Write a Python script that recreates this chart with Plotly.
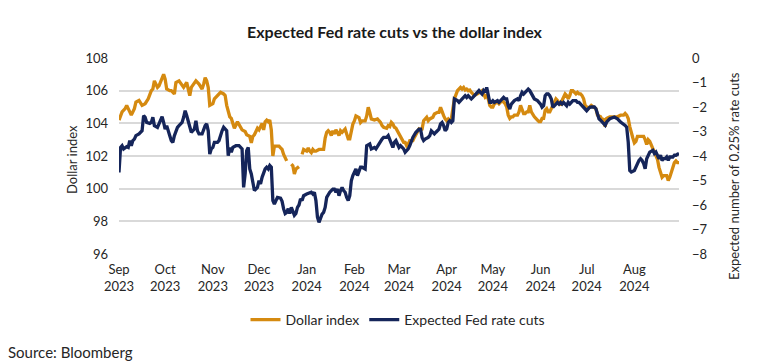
import plotly.graph_objects as go

# ---------------- data ----------------
dollar_dates = [
 "2023-09-01","2023-09-03","2023-09-05","2023-09-06","2023-09-08","2023-09-09","2023-09-11","2023-09-12","2023-09-14","2023-09-16",
 "2023-09-18","2023-09-20","2023-09-22","2023-09-23","2023-09-24","2023-09-26","2023-09-27","2023-09-29","2023-09-30","2023-10-01",
 "2023-10-02","2023-10-04","2023-10-05","2023-10-07","2023-10-08","2023-10-10","2023-10-12","2023-10-13","2023-10-15","2023-10-16",
 "2023-10-17","2023-10-18","2023-10-20","2023-10-21","2023-10-23","2023-10-25","2023-10-26","2023-10-27","2023-10-28","2023-10-29",
 "2023-10-30","2023-11-01","2023-11-02","2023-11-04","2023-11-06","2023-11-08","2023-11-09","2023-11-10","2023-11-12","2023-11-13",
 "2023-11-14","2023-11-15","2023-11-17","2023-11-19","2023-11-20","2023-11-22","2023-11-23","2023-11-25","2023-11-26","2023-11-27",
 "2023-11-28","2023-11-30","2023-12-01","2023-12-03","2023-12-04","2023-12-05","2023-12-06","2023-12-07","2023-12-08","2023-12-09",
 "2023-12-10","2023-12-11","2023-12-14","2023-12-15","2023-12-16","2023-12-17","2023-12-18","2023-12-19","2023-12-20","2023-12-22",
 "2023-12-23","2023-12-24","2023-12-25","2023-12-27","2023-12-28","2023-12-29","2023-12-30","2024-01-01","2024-01-02","2024-01-03",
 "2024-01-04","2024-01-05","2024-01-06","2024-01-07","2024-01-09","2024-01-11","2024-01-12","2024-01-13","2024-01-14","2024-01-15",
 "2024-01-16","2024-01-17","2024-01-18","2024-01-19","2024-01-20","2024-01-22","2024-01-23","2024-01-24","2024-01-25","2024-01-26",
 "2024-01-27","2024-01-28","2024-01-29","2024-01-30","2024-01-31","2024-02-01","2024-02-02","2024-02-04","2024-02-05","2024-02-06",
 "2024-02-07","2024-02-08","2024-02-09","2024-02-10","2024-02-11","2024-02-12","2024-02-14","2024-02-16","2024-02-17","2024-02-18",
 "2024-02-19","2024-02-20","2024-02-22","2024-02-23","2024-02-24","2024-02-25","2024-02-26","2024-02-27","2024-02-28","2024-03-01",
 "2024-03-02","2024-03-03","2024-03-04","2024-03-05","2024-03-06","2024-03-07","2024-03-08","2024-03-09","2024-03-10","2024-03-11",
 "2024-03-13","2024-03-14","2024-03-15","2024-03-16","2024-03-17","2024-03-18","2024-03-19","2024-03-20","2024-03-21","2024-03-23",
 "2024-03-24","2024-03-26","2024-03-27","2024-03-28","2024-03-29","2024-03-30","2024-03-31","2024-04-01","2024-04-02","2024-04-03",
 "2024-04-04","2024-04-05","2024-04-06","2024-04-08","2024-04-09","2024-04-10","2024-04-11","2024-04-12","2024-04-13","2024-04-14",
 "2024-04-15","2024-04-16","2024-04-17","2024-04-18","2024-04-19","2024-04-21","2024-04-23","2024-04-24","2024-04-25","2024-04-26",
 "2024-04-27","2024-04-28","2024-04-29","2024-04-30","2024-05-01","2024-05-02","2024-05-04","2024-05-05","2024-05-06","2024-05-07",
 "2024-05-08","2024-05-09","2024-05-10","2024-05-11","2024-05-12","2024-05-13","2024-05-14","2024-05-15","2024-05-17","2024-05-18",
 "2024-05-19","2024-05-20","2024-05-21","2024-05-22","2024-05-23","2024-05-24","2024-05-25","2024-05-26","2024-05-27","2024-05-28",
 "2024-05-30","2024-05-31","2024-06-01","2024-06-02","2024-06-03","2024-06-04","2024-06-05","2024-06-06","2024-06-07","2024-06-08",
 "2024-06-09","2024-06-11","2024-06-12","2024-06-13","2024-06-14","2024-06-15","2024-06-16","2024-06-17","2024-06-18","2024-06-19",
 "2024-06-20","2024-06-21","2024-06-22","2024-06-24","2024-06-25","2024-06-26","2024-06-27","2024-06-28","2024-06-29","2024-06-30",
 "2024-07-01","2024-07-02","2024-07-03","2024-07-04","2024-07-07","2024-07-08","2024-07-10","2024-07-11","2024-07-12","2024-07-13",
 "2024-07-14","2024-07-16","2024-07-19","2024-07-21","2024-07-23","2024-07-25","2024-07-26","2024-07-27","2024-07-28","2024-07-29",
 "2024-07-31","2024-08-01","2024-08-02","2024-08-03","2024-08-05","2024-08-07","2024-08-08","2024-08-09","2024-08-10","2024-08-11",
 "2024-08-13","2024-08-14","2024-08-15","2024-08-16","2024-08-17","2024-08-18","2024-08-19","2024-08-20","2024-08-21","2024-08-22",
 "2024-08-23","2024-08-24","2024-08-26","2024-08-27","2024-08-28","2024-08-29","2024-08-30",
]
dollar_index = [
 104.2,104.7,104.9,105.1,104.7,104.5,104.9,105.3,105.4,105.1,
 105.2,105.5,106.0,106.1,106.6,106.2,106.3,106.8,107.0,106.7,
 106.1,106.0,106.0,105.8,106.5,106.6,106.3,106.2,106.5,106.0,
 105.7,106.2,106.5,106.6,106.4,106.1,106.4,106.8,106.6,106.2,
 105.1,105.2,105.5,105.7,105.9,105.8,105.7,105.1,104.4,104.3,
 103.9,103.7,104.1,103.8,103.6,103.5,103.3,103.2,102.8,103.2,
 103.3,103.7,103.6,104.0,103.6,104.1,104.2,104.1,104.2,103.6,
 102.0,102.6,102.6,102.5,102.4,102.1,101.9,101.7,None,101.5,
 101.4,100.9,101.2,101.35,None,102.1,102.4,102.3,102.5,102.3,
 102.2,102.4,102.3,102.3,102.4,102.4,102.4,103.1,103.45,103.55,
 103.45,103.25,103.55,103.35,103.6,103.25,103.55,103.45,103.55,103.65,
 103.35,103.05,103.05,103.55,103.95,104.15,104.45,104.35,104.05,104.15,
 104.15,104.15,104.45,104.98,104.67,104.27,104.2,104.27,104.16,104.06,
 103.86,103.76,103.7,103.86,103.8,104.06,103.96,103.76,103.7,103.35,
 103.14,102.94,102.84,102.84,102.63,102.73,102.94,102.94,102.94,103.14,
 103.45,103.65,103.6,103.65,104.16,104.27,104.37,104.16,104.27,104.37,
 104.57,104.67,104.67,104.98,104.67,104.47,104.27,104.16,104.27,104.16,
 104.27,104.78,105.49,106.0,106.1,106.2,106.1,106.2,106.04,106.1,
 106.0,106.04,105.9,105.8,105.7,105.8,105.9,106.0,105.8,105.6,
 105.7,105.5,105.1,105.0,105.0,105.2,105.3,105.2,105.3,105.4,
 105.3,105.2,105.0,104.5,104.3,104.4,104.4,104.5,104.5,104.7,
 105.1,104.8,104.6,104.6,104.7,104.7,105.1,104.7,104.5,104.4,
 104.2,104.1,104.1,104.3,104.3,104.8,104.9,104.7,104.7,104.9,
 105.2,105.5,105.4,105.2,105.1,105.4,105.6,105.8,105.7,105.5,
 105.7,106.0,106.0,105.8,105.9,105.8,105.8,105.7,105.5,105.1,
 105.0,104.9,105.0,105.1,104.9,104.5,104.4,104.2,104.3,103.8,
 104.3,104.4,104.4,104.4,104.5,104.5,104.6,104.5,104.3,103.8,
 103.1,102.8,102.9,103.2,103.2,103.2,103.0,102.7,103.0,102.9,
 102.45,102.2,102.0,101.8,101.3,101.0,100.7,100.8,100.8,100.8,
 100.5,100.7,101.3,101.6,101.7,101.6,101.6,
]

fed_dates = [
 "2023-09-01","2023-09-02","2023-09-03","2023-09-04","2023-09-06","2023-09-07","2023-09-08","2023-09-09","2023-09-10","2023-09-11",
 "2023-09-12","2023-09-14","2023-09-16","2023-09-17","2023-09-18","2023-09-19","2023-09-21","2023-09-22","2023-09-23","2023-09-24",
 "2023-09-26","2023-09-27","2023-09-29","2023-09-30","2023-10-01","2023-10-02","2023-10-03","2023-10-04","2023-10-05","2023-10-06",
 "2023-10-07","2023-10-09","2023-10-10","2023-10-12","2023-10-13","2023-10-14","2023-10-15","2023-10-17","2023-10-18","2023-10-20",
 "2023-10-21","2023-10-22","2023-10-23","2023-10-25","2023-10-26","2023-10-27","2023-10-28","2023-10-29","2023-10-30","2023-10-31",
 "2023-11-01","2023-11-02","2023-11-04","2023-11-05","2023-11-07","2023-11-08","2023-11-10","2023-11-11","2023-11-12","2023-11-13",
 "2023-11-14","2023-11-16","2023-11-18","2023-11-20","2023-11-21","2023-11-22","2023-11-23","2023-11-24","2023-11-25","2023-11-26",
 "2023-11-27","2023-11-28","2023-11-30","2023-12-01","2023-12-02","2023-12-03","2023-12-05","2023-12-06","2023-12-07","2023-12-08",
 "2023-12-09","2023-12-10","2023-12-11","2023-12-13","2023-12-15","2023-12-16","2023-12-17","2023-12-18","2023-12-19","2023-12-20",
 "2023-12-21","2023-12-22","2023-12-23","2023-12-24","2023-12-25","2023-12-26","2023-12-27","2023-12-28","2023-12-29","2023-12-30",
 "2024-01-01","2024-01-02","2024-01-04","2024-01-05","2024-01-06","2024-01-07","2024-01-08","2024-01-09","2024-01-10","2024-01-11",
 "2024-01-12","2024-01-13","2024-01-14","2024-01-15","2024-01-16","2024-01-17","2024-01-18","2024-01-19","2024-01-20","2024-01-21",
 "2024-01-22","2024-01-23","2024-01-24","2024-01-25","2024-01-26","2024-01-27","2024-01-28","2024-01-29","2024-01-30","2024-01-31",
 "2024-02-01","2024-02-02","2024-02-03","2024-02-04","2024-02-05","2024-02-06","2024-02-08","2024-02-09","2024-02-11","2024-02-12",
 "2024-02-14","2024-02-15","2024-02-17","2024-02-18","2024-02-19","2024-02-20","2024-02-22","2024-02-23","2024-02-24","2024-02-26",
 "2024-02-27","2024-02-28","2024-02-29","2024-03-01","2024-03-02","2024-03-04","2024-03-05","2024-03-07","2024-03-08","2024-03-09",
 "2024-03-10","2024-03-12","2024-03-14","2024-03-15","2024-03-16","2024-03-17","2024-03-18","2024-03-20","2024-03-21","2024-03-22",
 "2024-03-24","2024-03-25","2024-03-27","2024-03-28","2024-03-29","2024-03-30","2024-03-31","2024-04-01","2024-04-02","2024-04-03",
 "2024-04-04","2024-04-05","2024-04-06","2024-04-08","2024-04-09","2024-04-10","2024-04-11","2024-04-12","2024-04-13","2024-04-14",
 "2024-04-15","2024-04-16","2024-04-17","2024-04-18","2024-04-19","2024-04-21","2024-04-22","2024-04-23","2024-04-24","2024-04-25",
 "2024-04-26","2024-04-27","2024-04-28","2024-04-29","2024-04-30","2024-05-01","2024-05-02","2024-05-04","2024-05-05","2024-05-06",
 "2024-05-07","2024-05-08","2024-05-09","2024-05-10","2024-05-11","2024-05-12","2024-05-13","2024-05-14","2024-05-15","2024-05-17",
 "2024-05-18","2024-05-19","2024-05-20","2024-05-21","2024-05-22","2024-05-23","2024-05-24","2024-05-25","2024-05-26","2024-05-27",
 "2024-05-28","2024-05-30","2024-05-31","2024-06-01","2024-06-02","2024-06-03","2024-06-04","2024-06-05","2024-06-06","2024-06-07",
 "2024-06-08","2024-06-09","2024-06-11","2024-06-12","2024-06-13","2024-06-14","2024-06-15","2024-06-16","2024-06-17","2024-06-18",
 "2024-06-19","2024-06-20","2024-06-21","2024-06-22","2024-06-24","2024-06-25","2024-06-26","2024-06-27","2024-06-28","2024-06-29",
 "2024-06-30","2024-07-01","2024-07-02","2024-07-03","2024-07-04","2024-07-06","2024-07-07","2024-07-08","2024-07-09","2024-07-10",
 "2024-07-11","2024-07-12","2024-07-13","2024-07-14","2024-07-16","2024-07-19","2024-07-21","2024-07-23","2024-07-25","2024-07-26",
 "2024-07-27","2024-07-28","2024-07-29","2024-07-30","2024-08-01","2024-08-02","2024-08-03","2024-08-04","2024-08-05","2024-08-06",
 "2024-08-07","2024-08-08","2024-08-09","2024-08-10","2024-08-11","2024-08-13","2024-08-14","2024-08-15","2024-08-16","2024-08-17",
 "2024-08-18","2024-08-19","2024-08-20","2024-08-21","2024-08-22","2024-08-23","2024-08-24","2024-08-26","2024-08-27","2024-08-28",
 "2024-08-29","2024-08-30",
]
fed_cuts = [
 -4.67,-3.65,-3.58,-3.71,-3.62,-3.65,-3.37,-3.58,-3.37,-3.31,
 -3.17,-3.10,-2.97,-2.35,-2.42,-2.63,-2.67,-2.63,-2.42,-2.76,
 -2.83,-2.69,-2.39,-2.63,-2.90,-2.76,-3.03,-3.17,-3.37,-3.44,
 -3.17,-2.83,-2.76,-2.63,-2.42,-2.15,-2.35,-2.83,-3.03,-2.90,
 -2.56,-2.97,-3.10,-3.10,-2.90,-2.76,-2.69,-2.97,-3.92,-3.71,
 -3.65,-3.44,-3.44,-3.37,-2.97,-2.83,-2.97,-3.99,-3.65,-3.85,
 -3.65,-3.58,-3.58,-3.71,-5.28,-4.73,-3.78,-3.65,-4.53,-4.73,
 -5.07,-5.41,-5.28,-5.01,-5.14,-4.87,-4.53,-4.46,-4.53,-4.39,
 -4.46,-5.82,-5.96,-5.69,-5.72,-5.85,-6.16,-6.35,-6.30,-6.15,
 -6.35,-6.10,-6.25,-6.42,-6.35,-6.10,-6.00,-5.75,-5.82,-5.62,
 -5.55,-5.52,-5.48,-5.55,-5.48,-5.82,-6.50,-6.71,-6.50,-6.37,
 -6.30,-6.10,-5.69,-5.55,-5.48,-5.41,-5.35,-5.35,-5.48,-5.35,
 -5.62,-5.41,-5.28,-5.41,-5.48,-5.69,-5.82,-5.62,-5.01,-4.80,
 -4.67,-4.53,-4.80,-4.60,-4.46,-4.46,-4.53,-3.58,-3.51,-3.71,
 -3.65,-3.71,-3.51,-3.37,-3.31,-3.24,-3.24,-3.17,-3.31,-3.65,
 -3.44,-3.37,-3.51,-3.65,-3.58,-3.71,-3.85,-3.71,-3.58,-3.37,
 -3.24,-3.03,-2.90,-2.90,-3.24,-3.37,-3.31,-3.24,-3.17,-2.97,
 -3.10,-3.03,-2.90,-2.69,-2.63,-2.76,-2.97,-2.90,-2.63,-2.56,
 -2.63,-2.56,-1.67,-1.74,-1.81,-1.74,-1.67,-1.61,-1.54,-1.61,
 -1.54,-1.61,-1.67,-1.61,-1.54,-1.40,-1.33,-1.40,-1.47,-1.33,
 -1.40,-1.20,-1.54,-1.81,-1.81,-1.74,-1.81,-1.74,-1.81,-1.74,
 -1.67,-1.61,-1.67,-1.67,-1.95,-2.08,-1.88,-1.81,-1.74,-1.67,
 -1.74,-1.54,-1.40,-1.47,-1.40,-1.33,-1.27,-1.33,-1.47,-1.54,
 -1.67,-1.74,-1.81,-1.88,-2.01,-1.95,-1.54,-1.47,-1.47,-1.54,
 -1.67,-2.01,-1.88,-1.81,-1.88,-1.81,-1.88,-1.81,-1.88,-1.95,
 -1.81,-1.88,-1.81,-1.74,-1.74,-1.81,-1.81,-1.88,-1.95,-2.01,
 -2.08,-2.15,-2.08,-2.01,-2.00,-2.00,-2.07,-2.27,-2.48,-2.54,
 -2.61,-2.68,-2.75,-2.61,-2.48,-2.41,-2.48,-2.61,-2.68,-2.75,
 -2.82,-3.43,-4.59,-4.65,-4.59,-4.45,-4.24,-4.18,-4.11,-4.18,
 -4.31,-4.52,-4.11,-3.97,-3.84,-3.77,-3.90,-3.84,-3.97,-4.11,
 -3.97,-4.18,-4.11,-4.11,-4.04,-4.18,-4.04,-4.04,-3.97,-3.97,
 -3.93,-3.90,
]

left_ticks = [96, 98, 100, 102, 104, 106, 108]
right_ticks = [-8, -7, -6, -5, -4, -3, -2, -1, 0]

ORANGE = "#D58A10"
NAVY = "#15255A"
FONT = "Lato"
TXT = "#262626"

W, H = 766, 364
L, R, T, B = 119, 87, 58, 110
pw, ph = W - L - R, H - T - B
def px(xp):
    return (xp - L) / pw
def py(yp):
    return (H - B - yp) / ph

fig = go.Figure()
fig.add_trace(go.Scatter(
    x=dollar_dates, y=dollar_index, name="Dollar index", mode="lines",
    line=dict(color=ORANGE, width=3.3), connectgaps=False, yaxis="y"))
fig.add_trace(go.Scatter(
    x=fed_dates, y=fed_cuts, name="Expected Fed rate cuts", mode="lines",
    line=dict(color=NAVY, width=3.3), yaxis="y2"))

fig.update_layout(
    width=W, height=H,
    margin=dict(l=L, r=R, t=T, b=B, autoexpand=False),
    paper_bgcolor="white", plot_bgcolor="white",
    font=dict(family=FONT, size=13, color=TXT),
    showlegend=True,
    legend=dict(orientation="h", x=px(398), xanchor="center", y=py(320), yanchor="middle",
                font=dict(size=14, color=TXT), itemwidth=30,
                tracegroupgap=0, bgcolor="rgba(0,0,0,0)"),
    xaxis=dict(type="date", range=["2023-09-01", "2024-08-30"],
               tick0="2023-09-01", dtick="M1", tickformat="%b<br>%Y",
               showgrid=False, zeroline=False, showline=False, ticks="",
               ticklabelstandoff=6, tickfont=dict(size=13, color=TXT)),
    yaxis=dict(range=[96, 108], tickvals=left_ticks, showgrid=True,
               gridcolor="#D9D9D9", gridwidth=1.5, zeroline=False, showline=False,
               ticks="", ticklabelstandoff=10, tickfont=dict(size=13, color=TXT)),
    yaxis2=dict(range=[-8, 0], tickvals=right_ticks, overlaying="y", side="right",
                showgrid=False, zeroline=False, showline=False, ticks="",
                ticklabelstandoff=12, tickfont=dict(size=13, color=TXT)),
)

fig.add_annotation(text="<b>Expected Fed rate cuts vs the dollar index</b>", x=px(395), y=py(31),
                   xref="paper", yref="paper", showarrow=False, xanchor="center", yanchor="middle",
                   font=dict(size=16, color="#1a1a1a"))
fig.add_annotation(text="Dollar index", x=px(72), y=py(160), xref="paper", yref="paper",
                   showarrow=False, textangle=-90, xanchor="center", yanchor="middle",
                   font=dict(size=13, color=TXT))
fig.add_annotation(text="Expected number of 0.25% rate cuts", x=px(734), y=py(176),
                   xref="paper", yref="paper", showarrow=False, textangle=-90,
                   xanchor="center", yanchor="middle", font=dict(size=13, color=TXT))
fig.add_annotation(text="Source: Bloomberg", x=px(6), y=py(352), xref="paper", yref="paper",
                   showarrow=False, xanchor="left", yanchor="middle",
                   font=dict(size=15, color=TXT))

fig.write_html("out.html", config={"displayModeBar": False},
               post_script="document.body.style.margin='0px';document.body.style.overflow='hidden';")
